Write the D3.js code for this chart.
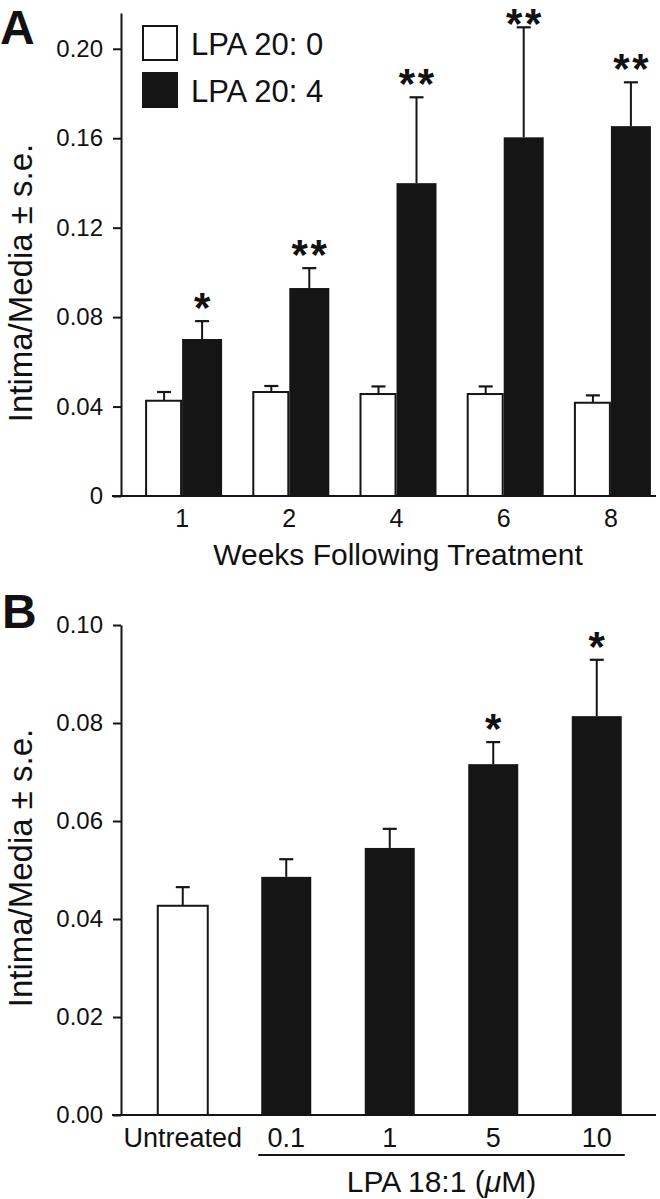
<!DOCTYPE html>
<html>
<head>
<meta charset="utf-8">
<script src="https://cdn.jsdelivr.net/npm/d3@7/dist/d3.min.js"></script>
<style>
  body { margin: 0; background: #fff; }
  svg { display: block; }
  text { font-family: "Liberation Sans", Arial, Helvetica, sans-serif; fill: #111; }
</style>
</head>
<body>
<svg id="chart" width="660" height="1199"></svg>
<script>
// ---------- Panel A data ----------
const weeks = ["1", "2", "4", "6", "8"];
const controlMean = [0.0426, 0.0465, 0.0456, 0.0456, 0.0417];
const controlSE   = [0.0039, 0.0027, 0.0034, 0.0034, 0.0033];
const lpa4Mean    = [0.0702, 0.0930, 0.1399, 0.1604, 0.1654];
const lpa4SE      = [0.0080, 0.0089, 0.0384, 0.0492, 0.0196];
const starsA      = [1, 2, 2, 2, 2];
const yTicksA     = [0, 0.04, 0.08, 0.12, 0.16, 0.20];
const legendLabels = ["LPA 20: 0", "LPA 20: 4"];

// ---------- Panel B data ----------
const doses  = ["Untreated", "0.1", "1", "5", "10"];
const meanB  = [0.0427, 0.0486, 0.0545, 0.0716, 0.0814];
const seB    = [0.0038, 0.0036, 0.0039, 0.0045, 0.0115];
const starsB = [0, 0, 0, 1, 1];
const yTicksB = [0, 0.02, 0.04, 0.06, 0.08, 0.10];

const BLACK = "#151515";
const svg = d3.select("#chart");
const FONT = '"Liberation Sans", Arial, Helvetica, sans-serif';

function drawStars(g, cx, baseY, n) {
  const by = Math.max(baseY, 38);
  for (let i = 0; i < n; i++) {
    g.append("text")
      .attr("x", cx + (i - (n - 1) / 2) * 19)
      .attr("y", by)
      .attr("text-anchor", "middle")
      .attr("font-size", 42)
      .attr("font-weight", "bold")
      .text("*");
  }
}

function errorBar(g, cx, yTop, yBar) {
  g.append("line").attr("x1", cx).attr("x2", cx).attr("y1", yBar).attr("y2", yTop)
    .attr("stroke", BLACK).attr("stroke-width", 2);
  g.append("line").attr("x1", cx - 7).attr("x2", cx + 7).attr("y1", yTop).attr("y2", yTop)
    .attr("stroke", BLACK).attr("stroke-width", 2.2);
}

// ================= PANEL A =================
(function () {
  const axisX = 121, baseY = 496, topY = 13;
  const y = d3.scaleLinear().domain([0, 0.216]).range([baseY, topY]);
  const x = d3.scaleBand().domain(weeks).range([128.5, 664.5]).paddingInner(0).paddingOuter(0);
  const g = svg.append("g");

  weeks.forEach((w, i) => {
    const c = x(w) + x.bandwidth() / 2;
    errorBar(g, c - 18, y(controlMean[i] + controlSE[i]), y(controlMean[i]));
    g.append("rect")
      .attr("x", c - 36).attr("y", y(controlMean[i]))
      .attr("width", 35).attr("height", baseY - y(controlMean[i]))
      .attr("fill", "#fff").attr("stroke", BLACK).attr("stroke-width", 2);
    errorBar(g, c + 20, y(lpa4Mean[i] + lpa4SE[i]), y(lpa4Mean[i]));
    g.append("rect")
      .attr("x", c).attr("y", y(lpa4Mean[i]))
      .attr("width", 40).attr("height", baseY - y(lpa4Mean[i]))
      .attr("fill", BLACK);
    drawStars(g, c + 20, y(lpa4Mean[i] + lpa4SE[i]) + 1, starsA[i]);
  });

  const ay = svg.append("g").attr("transform", `translate(${axisX},0)`)
    .call(d3.axisLeft(y).tickValues(yTicksA).tickSize(8).tickSizeOuter(0).tickPadding(10)
      .tickFormat(d => d === 0 ? "0" : d3.format(".2f")(d)));
  ay.selectAll("path,line").attr("stroke", BLACK).attr("stroke-width", 2);
  ay.selectAll("text").attr("font-size", 24).attr("font-family", FONT).attr("fill", "#111");

  svg.append("line").attr("x1", 112).attr("x2", 656).attr("y1", baseY).attr("y2", baseY)
    .attr("stroke", BLACK).attr("stroke-width", 2);

  const ax = svg.append("g").attr("transform", `translate(0,${baseY})`)
    .call(d3.axisBottom(x).tickSize(0).tickPadding(24));
  ax.select(".domain").remove();
  ax.selectAll("text").attr("font-size", 25).attr("font-family", FONT).attr("fill", "#111")
    .attr("dy", 0).attr("y", 31);

  svg.append("text").attr("x", 398).attr("y", 565).attr("text-anchor", "middle")
    .attr("font-size", 30).text("Weeks Following Treatment");

  svg.append("text").attr("transform", "translate(32,283) rotate(-90)")
    .attr("text-anchor", "middle").attr("font-size", 33).text("Intima/Media ± s.e.");

  svg.append("text").attr("x", 0).attr("y", 44).attr("font-size", 48).attr("font-weight", "bold").text("A");

  const lg = svg.append("g");
  legendLabels.forEach((lab, i) => {
    const yy = 26 + i * 47;
    lg.append("rect").attr("x", 143).attr("y", yy).attr("width", 34).attr("height", 34)
      .attr("fill", i === 0 ? "#fff" : BLACK).attr("stroke", BLACK).attr("stroke-width", 2);
    lg.append("text").attr("x", 191).attr("y", yy + 29).attr("font-size", 31).text(lab);
  });
})();

// ================= PANEL B =================
(function () {
  const axisX = 121, baseY = 1115, topY = 625;
  const y = d3.scaleLinear().domain([0, 0.10]).range([baseY, topY]);
  const x = d3.scaleBand().domain(doses).range([131, 648.5]).paddingInner(0).paddingOuter(0);
  const bw = 50;
  const g = svg.append("g");

  doses.forEach((d, i) => {
    const c = x(d) + x.bandwidth() / 2;
    errorBar(g, c, y(meanB[i] + seB[i]), y(meanB[i]));
    g.append("rect")
      .attr("x", c - bw / 2).attr("y", y(meanB[i]))
      .attr("width", bw).attr("height", baseY - y(meanB[i]))
      .attr("fill", i === 0 ? "#fff" : BLACK)
      .attr("stroke", BLACK).attr("stroke-width", i === 0 ? 2 : 0);
    drawStars(g, c, y(meanB[i] + seB[i]) + 1, starsB[i]);
  });

  const ay = svg.append("g").attr("transform", `translate(${axisX},0)`)
    .call(d3.axisLeft(y).tickValues(yTicksB).tickSize(8).tickSizeOuter(0).tickPadding(10)
      .tickFormat(d3.format(".2f")));
  ay.selectAll("path,line").attr("stroke", BLACK).attr("stroke-width", 2);
  ay.selectAll("text").attr("font-size", 24).attr("font-family", FONT).attr("fill", "#111");

  svg.append("line").attr("x1", 112).attr("x2", 656).attr("y1", baseY).attr("y2", baseY)
    .attr("stroke", BLACK).attr("stroke-width", 2);

  const ax = svg.append("g").attr("transform", `translate(0,${baseY})`)
    .call(d3.axisBottom(x).tickSize(0));
  ax.select(".domain").remove();
  ax.selectAll("text").attr("font-size", 27).attr("font-family", FONT).attr("fill", "#111")
    .attr("dy", 0).attr("y", 32);

  const x0 = x(doses[1]) + x.bandwidth() / 2 - bw / 2 - 3;
  const x1 = x(doses[doses.length - 1]) + x.bandwidth() / 2 + bw / 2 + 3;
  svg.append("line").attr("x1", x0).attr("x2", x1).attr("y1", 1155).attr("y2", 1155)
    .attr("stroke", BLACK).attr("stroke-width", 2);

  const t = svg.append("text").attr("x", (x0 + x1) / 2).attr("y", 1192)
    .attr("text-anchor", "middle").attr("font-size", 30);
  t.append("tspan").text("LPA 18:1 (");
  t.append("tspan").attr("font-style", "italic").text("μ");
  t.append("tspan").text("M)");

  svg.append("text").attr("transform", "translate(32,868) rotate(-90)")
    .attr("text-anchor", "middle").attr("font-size", 33).text("Intima/Media ± s.e.");

  svg.append("text").attr("x", 2).attr("y", 628).attr("font-size", 48).attr("font-weight", "bold").text("B");
})();
</script>
</body>
</html>
